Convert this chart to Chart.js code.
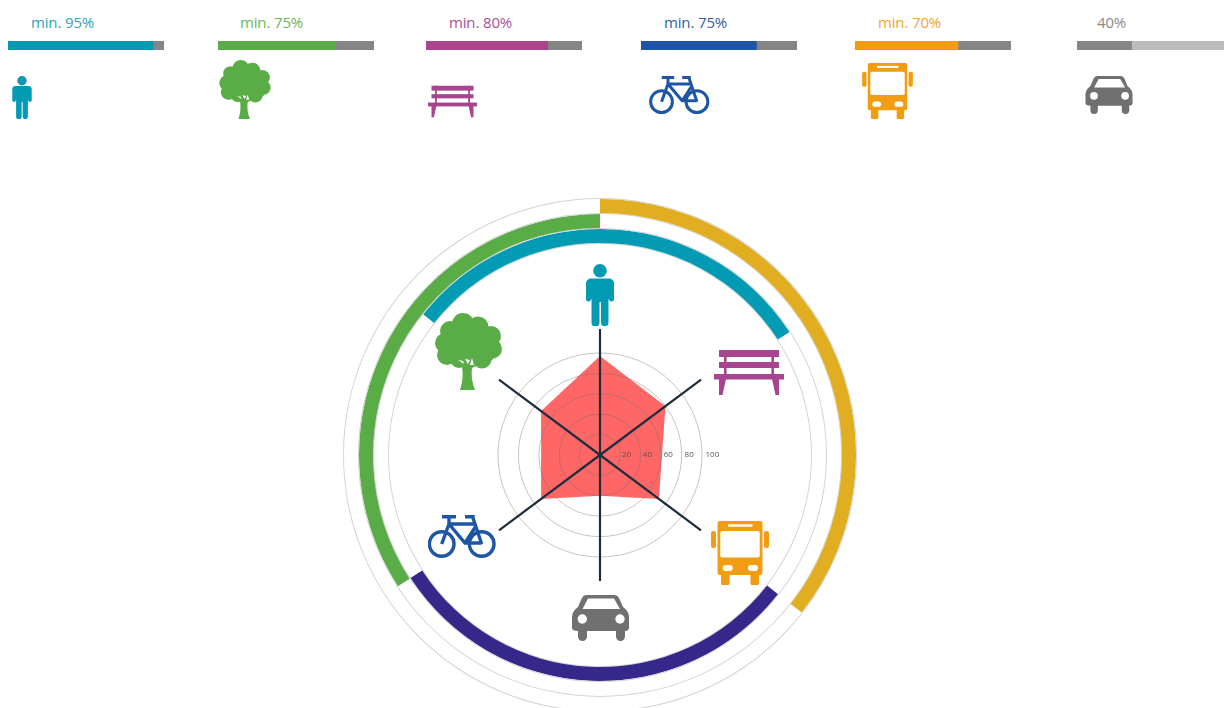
<!DOCTYPE html>
<html>
<head>
<meta charset="utf-8">
<title>Modal split</title>
<script src="https://cdn.jsdelivr.net/npm/chart.js@4/dist/chart.umd.js"></script>
<style>
  html, body { margin: 0; padding: 0; background: #fff; width: 1224px; height: 708px; overflow: hidden; }
  canvas, .ico, .lbl { position: absolute; display: block; }
  .lbl { font: 15px "Open Sans", sans-serif; letter-spacing: -0.15px; line-height: 20px; top: 12px; white-space: nowrap; }
</style>
</head>
<body>
<svg width="0" height="0" style="position:absolute">
  <symbol id="person" viewBox="0 0 28 62">
    <circle cx="14" cy="6.8" r="6.8" fill="currentColor"/>
    <path fill="currentColor" d="M5 14.5H23A5 5 0 0 1 28 19.5V35A2.5 2.5 0 0 1 23 35H22.5V58.5A3.5 3.5 0 0 1 15 58.5V38H13.5V58.5A3.5 3.5 0 0 1 5.5 58.5V35H5A2.5 2.5 0 0 1 0 35V19.5A5 5 0 0 1 5 14.5Z"/>
  </symbol>
  <symbol id="tree" viewBox="0 0 67 77">
    <g fill="currentColor">
      <circle cx="28" cy="11" r="11"/><circle cx="15" cy="18" r="10"/><circle cx="43" cy="14" r="10.5"/>
      <circle cx="56" cy="23" r="10"/><circle cx="10" cy="30" r="10"/><circle cx="57.5" cy="36" r="9.5"/>
      <circle cx="12" cy="42" r="10"/><circle cx="24" cy="46" r="9"/><circle cx="47" cy="46" r="9.5"/>
      <circle cx="33.5" cy="30" r="23"/><circle cx="20" cy="36" r="15"/><circle cx="47" cy="36" r="15"/>
      <path d="M25 77C28 68 28 60 27 54L20 50H46L37 55C36 62 37 70 40 77Z"/>
    </g>
    <path fill="#fff" d="M23 47L28 48L29 51ZM30 46L35 47L33 51ZM37 45L39 52L35 52Z"/>
  </symbol>
  <symbol id="bench" viewBox="0 0 70 45">
    <g fill="currentColor">
      <rect x="5" y="0" width="60" height="7"/><rect x="5" y="12" width="60" height="6"/>
      <rect x="0" y="24" width="70" height="5.5"/><rect x="10" y="0" width="2.6" height="25"/>
      <rect x="57.4" y="0" width="2.6" height="25"/>
      <path d="M5 29L5 45H8.5L12 29ZM58 29L61.5 45H65L65 29Z"/>
    </g>
  </symbol>
  <symbol id="bike" viewBox="0 0 68 44">
    <g fill="none" stroke="currentColor" stroke-width="3.4">
      <circle cx="13.7" cy="29" r="12.3"/><circle cx="53.7" cy="29" r="12.3"/>
      <path d="M14 1.7H28M21 2V9L13.7 29M21 9L37 28H53.7M21 9H46M48 11L37 28M37 1.7H45V3L53.7 29"/>
    </g>
  </symbol>
  <symbol id="bus" viewBox="0 0 58 64">
    <g fill="currentColor">
      <rect x="6.5" y="0" width="45" height="54" rx="2"/><rect x="10" y="52" width="8.5" height="12" rx="1.5"/>
      <rect x="39.5" y="52" width="8.5" height="12" rx="1.5"/><rect x="0" y="10" width="5" height="17" rx="2"/>
      <rect x="53" y="10" width="5" height="17" rx="2"/>
    </g>
    <g fill="#fff">
      <rect x="9.3" y="10" width="39.4" height="26.5" rx="2"/><rect x="17" y="3.3" width="24.5" height="2.4"/>
      <rect x="11.7" y="44" width="10" height="6" rx="3"/><rect x="37" y="44" width="10" height="6" rx="3"/>
    </g>
  </symbol>
  <symbol id="car" viewBox="0 0 57 46">
    <path fill="currentColor" d="M15 0H42C46 0 47 3 48 5L51 12C55 15 57 18 57 23V33C57 35 55 36 53 36V41.5A4.5 4.5 0 0 1 44 41.5V36H15V41.5A4.5 4.5 0 0 1 6 41.5V36C2 36 0 35 0 33V23C0 18 2 15 6 12L9 5C10 3 11 0 15 0Z"/>
    <path fill="#fff" d="M16 3.5H42L48 14H10.5Z"/>
    <circle cx="10.3" cy="24" r="4.7" fill="#fff"/><circle cx="48" cy="24" r="4.7" fill="#fff"/>
  </symbol>
</svg>

<svg class="ico" style="left:12px;top:76px;width:20px;height:43px;color:#039ab3"><use href="#person"/></svg>
<svg class="ico" style="left:219px;top:60px;width:52px;height:59px;color:#5aad46"><use href="#tree"/></svg>
<svg class="ico" style="left:428px;top:85px;width:49px;height:33px;color:#a9458f"><use href="#bench"/></svg>
<svg class="ico" style="left:649px;top:76px;width:61px;height:39px;color:#1f55a5"><use href="#bike"/></svg>
<svg class="ico" style="left:862px;top:63px;width:51px;height:56px;color:#f29c11"><use href="#bus"/></svg>
<svg class="ico" style="left:1085px;top:76px;width:48px;height:38px;color:#707070"><use href="#car"/></svg>

<canvas id="rings" width="520" height="520" style="left:340px;top:195px"></canvas>
<canvas id="radar" width="268" height="268" style="left:466px;top:321px"></canvas>

<svg class="ico" style="left:586px;top:264px;width:28px;height:62px;color:#039ab3"><use href="#person"/></svg>
<svg class="ico" style="left:435px;top:313px;width:67px;height:77px;color:#5aad46"><use href="#tree"/></svg>
<svg class="ico" style="left:714px;top:350px;width:70px;height:45px;color:#a9458f"><use href="#bench"/></svg>
<svg class="ico" style="left:428px;top:515px;width:68px;height:44px;color:#1f55a5"><use href="#bike"/></svg>
<svg class="ico" style="left:711px;top:521px;width:58px;height:64px;color:#f29c11"><use href="#bus"/></svg>
<svg class="ico" style="left:572px;top:595px;width:57px;height:46px;color:#707070"><use href="#car"/></svg>

<script>
// top row
const barLabels = ['min. 95%', 'min. 75%', 'min. 80%', 'min. 75%', 'min. 70%', '40%'];
const barFilled = [93, 75, 78, 74, 66, 35];
const barRest = [7, 25, 22, 26, 34, 65];
const barColors = ['#039ab3', '#5aad46', '#a9458f', '#1f55a5', '#f29c11', '#858585'];
const barRestColors = ['#858585', '#858585', '#858585', '#858585', '#858585', '#bcbcbc'];
const labelColors = ['#2aa5bd', '#6cb65a', '#ab4f95', '#33619f', '#f4a52c', '#8a8a8a'];
const barLeft = [8, 218, 426, 641, 855, 1077];
const labelLeft = [31, 240, 449, 664, 878, 1097];

// radar, one value per spoke, clockwise from the top
const modes = ['Pedestrian', 'Bench', 'Bus', 'Car', 'Bicycle', 'Tree'];
const modeValues = [97, 80, 72, 40, 72, 72];
const spokeDegrees = [0, 53.3, 126.7, 180, 233.3, 306.7];
const radarTicks = [20, 40, 60, 80, 100];

// rings, arc lengths in degrees clockwise from the top
const outerArcs = [128, 232];
const outerColors = ['#e0ae20', 'transparent'];
const middleArcs = [237, 123];
const middleColors = ['transparent', '#5aad46'];
const innerArcs = [57, 71, 109, 71.5, 51.5];
const innerColors = ['#039ab3', 'transparent', '#35288a', 'transparent', '#039ab3'];

const RING_GREY = '#d4d4d4';

// spokes are not evenly spaced and the tick labels run along the horizontal
class SpokeScale extends Chart.RadialLinearScale {
  static id = 'spokeScale';

  getIndexAngle(index) {
    return spokeDegrees[index] * Math.PI / 180;
  }

  drawLabels() {
    const ctx = this.ctx;
    ctx.save();
    ctx.font = '8px "Open Sans", sans-serif';
    ctx.fillStyle = '#555';
    ctx.textAlign = 'left';
    ctx.textBaseline = 'middle';
    this.ticks.forEach(tick => {
      if (!radarTicks.includes(tick.value)) return;
      const x = this.xCenter + this.getDistanceFromCenterForValue(tick.value);
      ctx.fillText(tick.value, x + 1 + tick.value / 40, this.yCenter);
    });
    ctx.restore();
  }
}
Chart.register(SpokeScale);

barFilled.forEach((value, i) => {
  const canvas = document.createElement('canvas');
  canvas.width = 156;
  canvas.height = 9;
  canvas.style.left = barLeft[i] + 'px';
  canvas.style.top = '41px';
  document.body.appendChild(canvas);

  const label = document.createElement('div');
  label.className = 'lbl';
  label.style.left = labelLeft[i] + 'px';
  label.style.color = labelColors[i];
  label.textContent = barLabels[i];
  document.body.appendChild(label);

  new Chart(canvas, {
    type: 'bar',
    data: {
      labels: [modes[i]],
      datasets: [
        { data: [value], backgroundColor: barColors[i] },
        { data: [barRest[i]], backgroundColor: barRestColors[i] }
      ]
    },
    options: {
      indexAxis: 'y',
      responsive: false,
      animation: false,
      datasets: { bar: { categoryPercentage: 1, barPercentage: 1 } },
      plugins: { legend: { display: false }, tooltip: { enabled: false } },
      scales: {
        x: { display: false, stacked: true, min: 0, max: 100 },
        y: { display: false, stacked: true }
      }
    }
  });
});

function thinRing() {
  return { data: [1], backgroundColor: RING_GREY, weight: 1 };
}

new Chart(document.getElementById('rings'), {
  type: 'doughnut',
  data: {
    datasets: [
      thinRing(),
      { data: outerArcs, backgroundColor: outerColors, weight: 14 },
      thinRing(),
      { data: middleArcs, backgroundColor: middleColors, weight: 14 },
      thinRing(),
      { data: innerArcs, backgroundColor: innerColors, weight: 14 },
      thinRing()
    ]
  },
  options: {
    responsive: false,
    animation: false,
    cutout: 211,
    borderWidth: 0,
    layout: { padding: 3 },
    plugins: { legend: { display: false }, tooltip: { enabled: false } }
  }
});

new Chart(document.getElementById('radar'), {
  type: 'radar',
  data: {
    labels: modes,
    datasets: [{
      data: modeValues,
      backgroundColor: 'rgba(255, 0, 0, 0.6)',
      borderWidth: 0,
      pointRadius: 0,
      fill: true
    }]
  },
  options: {
    responsive: false,
    animation: false,
    plugins: { legend: { display: false }, tooltip: { enabled: false } },
    scales: {
      r: {
        type: 'spokeScale',
        min: 0,
        max: 123.5,
        pointLabels: { display: false },
        angleLines: { color: '#1f2d3d', lineWidth: 2.2 },
        grid: {
          circular: true,
          z: 1,
          lineWidth: 1,
          color: ctx => ctx.tick && ctx.tick.value <= 100 ? 'rgba(110, 110, 110, 0.4)' : 'transparent'
        },
        ticks: { stepSize: 20, z: 1, showLabelBackdrop: false }
      }
    }
  }
});
</script>
</body>
</html>
